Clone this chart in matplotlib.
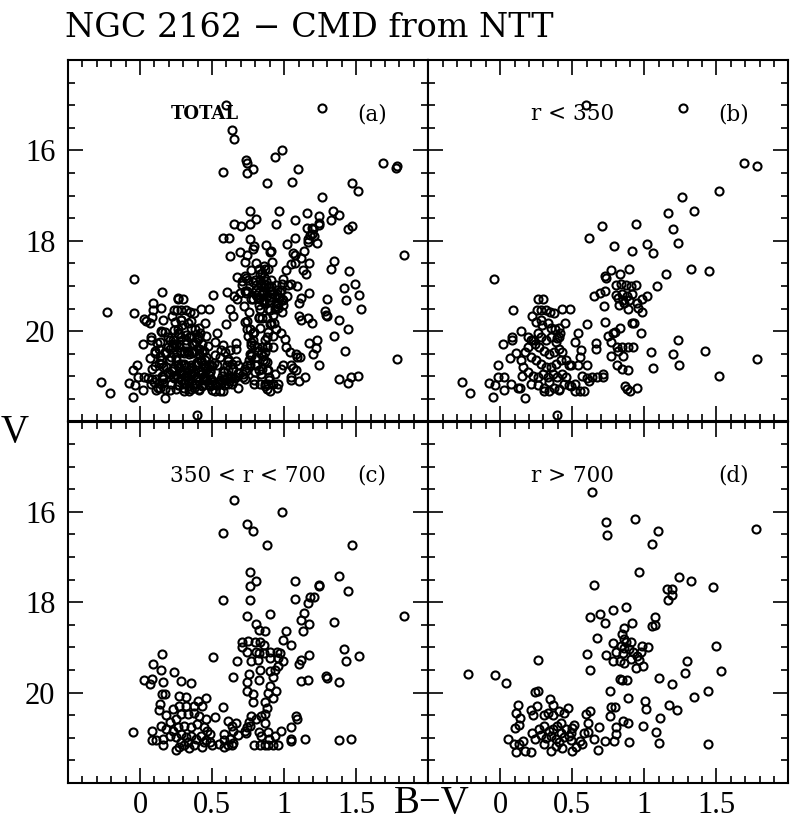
#!/usr/bin/env python3
"""NGC 2162 colour-magnitude diagrams from NTT, split by radius."""
import matplotlib
matplotlib.use("Agg")
import matplotlib.pyplot as plt
import numpy as np
from matplotlib.ticker import FixedLocator, MultipleLocator

# (B-V, V), one list per radial bin
inner = [  # r < 350
    (0.594, 15.00), (1.265, 15.07), (1.689, 16.27), (1.785, 16.35), (1.515, 16.89),
    (1.263, 17.04), (1.161, 17.39), (1.342, 17.35), (1.202, 17.75), (0.941, 17.62),
    (0.703, 17.67), (0.619, 17.94), (0.789, 18.11), (0.912, 18.22), (1.020, 18.07),
    (1.059, 18.28), (1.231, 18.04), (-0.041, 18.84), (1.322, 18.62), (1.451, 18.66),
    (1.152, 18.74), (1.088, 19.01), (0.769, 18.65), (0.830, 18.73), (0.891, 18.62),
    (0.728, 18.77), (0.737, 18.82), (0.649, 19.23), (0.692, 19.16), (0.730, 19.12),
    (0.719, 19.44), (0.805, 18.99), (0.839, 18.95), (0.873, 18.97), (0.907, 19.01),
    (0.941, 18.99), (0.805, 19.19), (0.844, 19.17), (0.878, 19.22), (0.914, 19.17),
    (0.816, 19.27), (0.850, 19.31), (0.896, 19.31), (0.823, 19.42), (0.862, 19.38),
    (0.986, 19.29), (1.020, 19.23), (0.948, 19.37), (0.959, 19.49), (0.986, 19.57),
    (0.889, 19.51), (0.726, 19.79), (0.912, 19.83), (0.930, 19.83), (0.832, 19.93),
    (0.794, 20.01), (0.782, 20.05), (0.748, 20.10), (0.980, 20.04), (0.599, 19.84),
    (0.537, 20.05), (0.522, 20.24), (0.560, 20.41), (0.556, 20.57), (0.664, 20.26),
    (0.664, 20.39), (0.771, 20.24), (0.812, 20.35), (0.846, 20.35), (0.884, 20.35),
    (0.923, 20.35), (0.816, 20.44), (0.771, 20.54), (0.850, 20.54), (0.812, 20.76),
    (0.844, 20.84), (0.884, 20.86), (1.043, 20.46), (1.231, 20.20), (1.202, 20.51),
    (1.422, 20.43), (1.059, 20.81), (1.240, 20.76), (1.515, 20.99), (1.785, 20.61),
    (0.868, 21.21), (0.878, 21.28), (0.902, 21.32), (0.952, 21.25), (0.601, 20.76),
    (0.714, 20.95), (0.714, 21.02), (0.669, 21.02), (0.635, 21.02), (0.601, 21.04),
    (0.567, 20.99), (0.619, 21.10), (0.578, 21.32), (0.556, 21.32), (0.522, 21.17),
    (0.488, 21.21), (0.522, 21.32), (0.537, 20.74), (0.492, 20.76), (0.397, 21.86),
    (-0.268, 21.12), (-0.209, 21.36), (-0.079, 21.15), (-0.050, 21.45), (-0.036, 21.19),
    (-0.016, 21.01), (0.029, 21.01), (-0.018, 20.75), (0.023, 21.31), (0.073, 21.16),
    (0.125, 21.25), (0.136, 21.25), (0.170, 21.49), (0.068, 20.60), (0.018, 20.29),
    (0.079, 20.13), (0.079, 20.20), (0.107, 20.48), (0.147, 19.99), (0.088, 19.53),
    (0.143, 20.63), (0.159, 20.80), (0.152, 20.99), (0.170, 20.46), (0.220, 19.66),
    (0.261, 19.28), (0.299, 19.28), (0.426, 19.51), (0.481, 19.51), (0.449, 19.83),
    (0.193, 20.13), (0.211, 20.20), (0.193, 20.35), (0.227, 20.20), (0.254, 19.53),
    (0.283, 19.53), (0.317, 19.54), (0.347, 19.57), (0.374, 19.59), (0.245, 19.79),
    (0.283, 19.75), (0.288, 19.87), (0.333, 19.83), (0.351, 19.92), (0.379, 19.96),
    (0.408, 19.92), (0.415, 20.05), (0.397, 20.16), (0.238, 20.28), (0.272, 20.35),
    (0.306, 20.43), (0.340, 20.50), (0.374, 20.46), (0.408, 20.39), (0.431, 20.46),
    (0.215, 20.57), (0.249, 20.65), (0.283, 20.72), (0.317, 20.80), (0.351, 20.80),
    (0.385, 20.72), (0.420, 20.65), (0.454, 20.65), (0.476, 20.76), (0.193, 20.91),
    (0.227, 20.99), (0.261, 21.02), (0.295, 20.95), (0.329, 21.02), (0.363, 20.95),
    (0.397, 21.02), (0.431, 20.95), (0.454, 21.02), (0.215, 21.17), (0.261, 21.19),
    (0.306, 21.25), (0.340, 21.13), (0.374, 21.25), (0.408, 21.28), (0.442, 21.17),
    (0.476, 21.19), (0.306, 21.32), (0.340, 21.32), (0.408, 21.31), (0.351, 20.13),
    (0.317, 20.20), (0.283, 20.13), (0.261, 20.05), (0.408, 20.13), (0.385, 20.24),
]

middle = [  # 350 < r < 700
    (0.655, 15.74), (0.984, 16.00), (0.575, 16.47), (0.743, 16.27), (0.786, 16.42),
    (0.882, 16.73), (1.473, 16.73), (0.766, 17.34), (0.807, 17.52), (0.764, 17.63),
    (1.073, 17.54), (1.239, 17.61), (1.243, 17.65), (1.382, 17.43), (1.443, 17.74),
    (0.575, 17.94), (0.766, 17.96), (1.073, 17.93), (1.182, 17.88), (1.205, 17.89),
    (1.166, 18.02), (0.745, 18.31), (0.905, 18.25), (1.136, 18.23), (1.118, 18.39),
    (1.175, 18.49), (1.132, 18.64), (1.345, 18.44), (1.830, 18.31), (0.802, 18.49),
    (0.825, 18.62), (0.864, 18.63), (1.011, 18.64), (0.993, 18.84), (1.045, 18.95),
    (0.705, 18.89), (0.705, 18.98), (0.750, 18.86), (0.795, 18.87), (0.830, 18.87),
    (0.859, 18.95), (0.745, 19.11), (0.807, 19.09), (0.823, 19.13), (0.859, 19.13),
    (0.905, 19.11), (0.948, 19.09), (0.973, 19.13), (0.773, 19.29), (0.818, 19.27),
    (0.905, 19.24), (0.955, 19.24), (0.989, 19.31), (0.959, 19.40), (0.939, 19.51),
    (0.905, 19.53), (0.675, 19.29), (0.505, 19.21), (1.175, 19.16), (1.114, 19.27),
    (1.102, 19.37), (1.414, 19.04), (1.432, 19.31), (1.523, 19.19), (0.757, 19.58),
    (0.834, 19.51), (0.920, 19.65), (0.823, 19.72), (0.743, 19.77), (0.643, 19.66),
    (1.120, 19.75), (1.166, 19.71), (1.291, 19.64), (1.295, 19.67), (1.382, 19.76),
    (0.739, 19.96), (0.784, 20.04), (0.902, 19.85), (0.943, 19.96), (0.891, 20.01),
    (0.920, 20.11), (0.784, 20.20), (0.864, 20.20), (0.882, 20.33), (0.864, 20.47),
    (0.841, 20.51), (0.773, 20.52), (0.757, 20.64), (0.766, 20.74), (0.739, 20.76),
    (0.732, 20.89), (0.807, 20.58), (0.864, 20.67), (1.084, 20.51), (1.086, 20.58),
    (1.045, 20.76), (0.977, 20.84), (0.823, 20.87), (0.841, 20.95), (0.886, 20.87),
    (0.939, 20.95), (0.898, 21.02), (0.920, 21.16), (0.891, 21.16), (0.955, 21.16),
    (0.864, 21.16), (0.830, 21.16), (0.791, 21.16), (1.045, 21.02), (1.045, 21.08),
    (1.143, 21.02), (1.382, 21.05), (1.466, 21.02), (0.664, 20.67), (0.636, 20.73),
    (0.609, 20.62), (0.575, 20.31), (0.523, 20.53), (0.643, 20.84), (0.682, 20.93),
    (0.727, 20.84), (0.586, 20.91), (0.625, 21.02), (0.648, 21.11), (0.607, 21.16),
    (0.580, 21.20), (0.545, 21.13), (0.586, 21.05), (0.636, 21.16), (0.500, 21.16),
    (-0.052, 20.87), (0.152, 19.14), (0.091, 19.37), (0.143, 19.49), (0.027, 19.73),
    (0.068, 19.82), (0.084, 19.69), (0.159, 19.76), (0.239, 19.54), (0.284, 19.75),
    (0.352, 19.78), (0.152, 20.02), (0.170, 20.02), (0.273, 20.07), (0.318, 20.09),
    (0.405, 20.18), (0.461, 20.11), (0.141, 20.25), (0.130, 20.39), (0.182, 20.49),
    (0.227, 20.36), (0.273, 20.29), (0.318, 20.29), (0.375, 20.29), (0.432, 20.29),
    (0.205, 20.65), (0.250, 20.58), (0.284, 20.47), (0.330, 20.47), (0.375, 20.44),
    (0.409, 20.51), (0.455, 20.58), (0.080, 20.84), (0.143, 20.73), (0.182, 20.80),
    (0.227, 20.84), (0.261, 20.76), (0.307, 20.73), (0.352, 20.76), (0.398, 20.69),
    (0.443, 20.76), (0.466, 20.84), (0.080, 21.05), (0.114, 21.05), (0.159, 21.02),
    (0.159, 21.15), (0.205, 20.95), (0.250, 20.98), (0.284, 20.91), (0.318, 20.98),
    (0.352, 20.95), (0.386, 21.02), (0.420, 20.95), (0.455, 21.05), (0.489, 20.91),
    (0.489, 21.09), (0.250, 21.27), (0.273, 21.20), (0.307, 21.16), (0.341, 21.22),
    (0.375, 21.16), (0.432, 21.20), (0.443, 21.09), (0.284, 21.09), (0.330, 21.09),
]

outer = [  # r > 700
    (0.635, 15.56), (0.732, 16.22), (0.741, 16.51), (0.934, 16.15), (1.093, 16.42),
    (1.052, 16.70), (1.776, 16.38), (0.964, 17.34), (0.653, 17.62), (1.240, 17.45),
    (1.327, 17.54), (1.474, 17.67), (1.156, 17.71), (1.195, 17.71), (1.190, 17.85),
    (1.163, 17.96), (0.873, 18.10), (0.782, 18.18), (0.692, 18.25), (0.624, 18.33),
    (0.726, 18.47), (0.914, 18.47), (1.073, 18.32), (1.050, 18.52), (1.073, 18.50),
    (0.862, 18.56), (0.846, 18.71), (0.862, 18.81), (0.873, 18.89), (0.907, 18.87),
    (0.839, 18.96), (0.862, 19.02), (0.896, 19.03), (0.805, 19.09), (0.850, 19.12),
    (0.918, 19.11), (0.952, 19.18), (0.975, 19.09), (0.986, 18.96), (1.027, 18.99),
    (0.782, 19.29), (0.828, 19.29), (0.862, 19.34), (0.907, 19.25), (0.964, 19.27),
    (0.673, 18.80), (0.782, 18.91), (0.601, 19.14), (0.732, 19.16), (0.624, 19.51),
    (0.941, 19.45), (0.991, 19.42), (0.261, 19.27), (-0.227, 19.58), (-0.039, 19.60),
    (0.041, 19.78), (0.828, 19.69), (0.844, 19.71), (0.878, 19.72), (1.104, 19.67),
    (1.195, 19.81), (1.281, 19.56), (1.295, 19.29), (1.494, 18.96), (1.535, 19.52),
    (1.444, 19.96), (1.345, 20.10), (1.172, 20.27), (1.224, 20.38), (1.005, 20.18),
    (1.014, 20.36), (0.884, 20.12), (0.764, 19.96), (0.771, 20.31), (0.794, 20.31),
    (0.760, 20.51), (0.850, 20.63), (0.884, 20.68), (1.111, 20.57), (0.991, 20.74),
    (1.084, 20.87), (1.104, 21.11), (1.444, 21.14), (0.896, 21.09), (0.800, 20.76),
    (0.800, 20.91), (0.789, 21.08), (0.730, 21.07), (0.683, 20.76), (0.651, 21.03),
    (0.680, 21.26), (0.592, 20.47), (0.624, 20.41), (0.612, 20.67), (0.608, 20.87),
    (0.578, 20.89), (0.567, 21.13), (0.556, 21.08), (0.528, 21.20), (0.499, 21.30),
    (0.515, 20.71), (0.499, 20.78), (0.492, 21.05), (0.238, 19.98), (0.261, 19.96),
    (0.342, 20.14), (0.363, 20.27), (0.120, 20.27), (0.107, 20.45), (0.136, 20.56),
    (0.102, 20.78), (0.132, 20.71), (0.211, 20.39), (0.227, 20.49), (0.252, 20.29),
    (0.306, 20.49), (0.329, 20.45), (0.363, 20.49), (0.408, 20.40), (0.442, 20.45),
    (0.472, 20.34), (0.220, 20.89), (0.238, 21.03), (0.272, 20.81), (0.306, 20.74),
    (0.340, 20.85), (0.363, 20.81), (0.397, 20.74), (0.420, 20.67), (0.420, 20.89),
    (0.454, 20.81), (0.488, 20.89), (0.283, 20.94), (0.317, 21.00), (0.351, 20.96),
    (0.385, 21.03), (0.408, 21.10), (0.442, 20.99), (0.476, 20.96), (0.306, 21.14),
    (0.351, 21.29), (0.385, 21.18), (0.431, 21.22), (0.052, 21.03), (0.098, 21.13),
    (0.132, 21.14), (0.159, 21.07), (0.109, 21.31), (0.170, 21.29), (0.211, 21.31),
]

total = inner + middle + outer

panels = [total, inner, middle, outer]
names = ["TOTAL", "r < 350", "350 < r < 700", "r > 700"]
tags = ["(a)", "(b)", "(c)", "(d)"]

x_ticks = [0, 0.5, 1, 1.5]
x_labels = ["0", "0.5", "1", "1.5"]
y_ticks = [16, 18, 20]

SERIF = "Liberation Serif"

fig, axes = plt.subplots(2, 2, figsize=(7.9, 8.21), dpi=100, sharex=True, sharey=True)
fig.subplots_adjust(left=68 / 790, right=0.998, top=1 - 60 / 821, bottom=1 - 783 / 821,
                    wspace=0, hspace=0)

for i, ax in enumerate(axes.flat):
    pts = np.array(panels[i])
    ax.plot(pts[:, 0], pts[:, 1], "o", ms=5.8, mfc="none", mec="black", mew=1.5)
    ax.set_xlim(-0.5, 2.0)
    ax.set_ylim(22, 14)
    ax.xaxis.set_major_locator(FixedLocator(x_ticks))
    ax.xaxis.set_minor_locator(MultipleLocator(0.1))
    ax.yaxis.set_major_locator(FixedLocator(y_ticks))
    ax.yaxis.set_minor_locator(MultipleLocator(0.5))
    ax.tick_params(which="both", direction="in", top=True, right=True, width=1.2,
                   labelsize=22)
    ax.tick_params(axis="x", pad=6)
    ax.tick_params(axis="y", pad=9)
    ax.tick_params(which="major", length=11)
    ax.tick_params(which="minor", length=5)
    for sp in ax.spines.values():
        sp.set_linewidth(1.5)
    if i == 0:
        ax.text(0.21, 15.2, names[i], family="DejaVu Serif", fontsize=13,
                weight="bold", ha="left", va="center")
    else:
        ax.text(0.21, 15.2, names[i], family="DejaVu Serif", fontsize=15.5,
                ha="left", va="center")
    ax.text(1.51, 15.2, tags[i], family="DejaVu Serif", fontsize=15.5, ha="left", va="center")

for ax in axes[1]:
    ax.set_xticklabels(x_labels, family=SERIF)
for ax in axes[:, 0]:
    ax.set_yticklabels([str(t) for t in y_ticks], family=SERIF)

fig.text(15 / 790, 1 - 432 / 821, "V", family=SERIF, fontsize=28, ha="center", va="center")
fig.text(432 / 790, 1 - 803 / 821, "B\u2212V", family=SERIF, fontsize=28, ha="center", va="center")
fig.text(65 / 790, 1 - 37 / 821, "NGC 2162 \u2212 CMD from NTT", family="DejaVu Serif",
         fontsize=24, ha="left", va="baseline")

fig.savefig("out.png", dpi=100)
